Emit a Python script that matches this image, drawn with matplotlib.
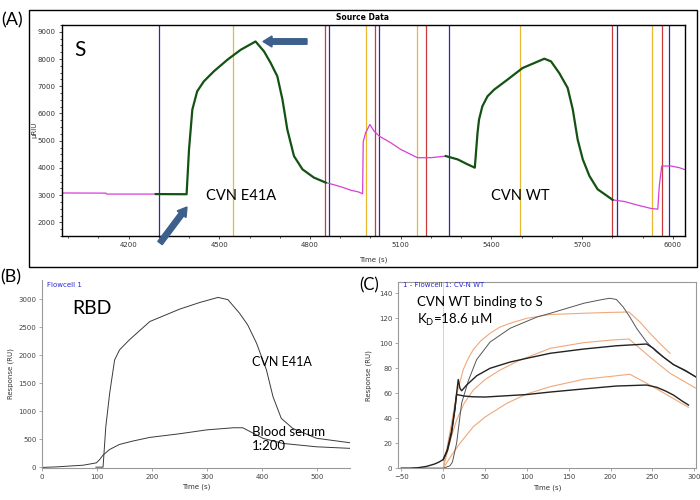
import matplotlib
matplotlib.use('Agg')
import matplotlib.pyplot as plt
from matplotlib.patches import Rectangle, FancyArrow
from matplotlib.ticker import MultipleLocator

plt.rcParams['font.family'] = ['DejaVu Sans']
plt.rcParams['mathtext.fontset'] = 'custom'
plt.rcParams['mathtext.rm'] = 'Lato'

ANN = ['Lato', 'DejaVu Sans']

# %% --- data, panel A (S, sensorgram) ---------------------------------------
pinkA1_t = [3980, 4125, 4128, 4300]
pinkA1_y = [3080, 3075, 3040, 3040]

greenA1_t = [4290, 4392, 4400, 4411, 4427, 4449, 4482, 4527, 4571, 4620,
             4648, 4670, 4692, 4709, 4725, 4747, 4775, 4813, 4852]
greenA1_y = [3040, 3034, 4680, 6145, 6815, 7180, 7547, 7975, 8340, 8645,
             8280, 7855, 7365, 6510, 5413, 4437, 3950, 3645, 3462]

pinkA2_t = [4852, 4880, 4910, 4935, 4960, 4974, 4976, 4984, 4998, 5012,
            5029, 5067, 5100, 5133, 5155, 5200, 5249]
pinkA2_y = [3462, 3380, 3280, 3180, 3120, 3050, 4963, 5292, 5596, 5351,
            5168, 4925, 4681, 4498, 4376, 4376, 4436]

greenA2_t = [5249, 5288, 5321, 5345, 5354, 5359, 5370, 5387, 5409, 5453,
             5503, 5542, 5575, 5597, 5624, 5652, 5669, 5685, 5702, 5724,
             5751, 5801]
greenA2_y = [4436, 4315, 4132, 4010, 5292, 5779, 6266, 6632, 6877, 7243,
             7671, 7855, 8012, 7913, 7488, 6939, 6145, 5047, 4315, 3704,
             3217, 2826]

pinkA3_t = [5801, 5840, 5884, 5928, 5950, 5955, 5963, 5994, 6021, 6043]
pinkA3_y = [2826, 2767, 2632, 2511, 2485, 3338, 4070, 4070, 4010, 3924]

blue_lines = [4300, 4862, 5028, 5260, 5815, 5986]
yellow_lines = [4547, 4984, 5154, 5496, 5932]
red_lines = [4849, 5015, 5184, 5798, 5964]

# %% --- data, panel B (RBD) --------------------------------------------------
e41a_t = [98, 111, 116, 123, 132, 141, 159, 196, 250, 287, 320, 338, 359,
          374, 390, 408, 420, 435, 456, 499, 560]
e41a_y = [5, 5, 725, 1320, 1915, 2095, 2275, 2600, 2820, 2940, 3030, 2990,
          2750, 2540, 2215, 1740, 1260, 875, 695, 520, 440]

serum_t = [0, 26, 75, 99, 105, 111, 123, 141, 165, 196, 250, 300, 348, 365,
           402, 438, 499, 560]
serum_y = [0, 10, 40, 82, 143, 220, 320, 410, 470, 535, 600, 670, 707, 707,
           518, 428, 368, 340]

# %% --- data, panel C (CVN WT binding to S) ----------------------------------
blkA_t = [-50, 0, 8, 11, 16, 22, 30, 40, 56, 80, 112, 128, 168, 190, 199,
          207, 215, 223, 231, 243, 255, 275, 302]
blkA_y = [0, 0, 2, 5, 20, 52, 70, 87, 101, 112, 121, 124, 132, 135, 136,
          135, 129, 121, 112, 101, 93, 83, 73]

blkB_t = [-50, -40, -30, -20, -10, -5, 0, 5, 10, 14, 16, 18, 20, 22, 28, 40,
          56, 80, 100, 128, 168, 207, 243, 251, 263, 275, 290, 302]
blkB_y = [0, 0, 0.5, 1.5, 3.5, 5, 7, 14, 28, 47, 60, 71, 64, 62, 66.6, 74,
          80, 85, 88, 92, 95.4, 98, 99.4, 96, 89, 83, 78, 73]

blkC_t = [0, 5, 10, 14, 16, 20, 25, 35, 50, 100, 128, 168, 207, 243, 255,
          265, 275, 285, 293]
blkC_y = [7, 15, 30, 48, 59, 58.5, 57.8, 57.2, 57, 59, 61, 63.5, 65.8, 66.6,
          64.8, 62, 58.6, 54, 50.6]

fit1_t = [-50, 0, 5, 10, 14, 18, 24, 30, 36, 45, 56, 68, 80, 100, 128, 168,
          200, 222, 235, 247, 260, 271]
fit1_y = [0, 0, 18, 36, 52, 64, 79, 88, 95, 102, 108, 113, 116, 120, 123,
          124, 124.7, 125, 117, 108, 99, 92]

fit2_t = [-50, 0, 5, 10, 16, 25, 36, 50, 68, 90, 128, 168, 200, 222, 247,
          271, 302]
fit2_y = [0, 0, 13, 26, 38.6, 52, 62.6, 71, 78.6, 86, 96, 100.5, 102.5,
          103.4, 89, 76, 64]

fit3_t = [-50, 0, 10, 20, 36, 50, 76, 100, 128, 168, 200, 223, 247, 271, 293]
fit3_y = [0, 0, 10.5, 20, 33.3, 41, 52, 59.5, 65.3, 71.2, 73.5, 75.2, 66.6,
          57.3, 48.8]


# %% ---------------------------------------------------------------------------
W, H = 700, 500
fig = plt.figure(figsize=(7, 5), dpi=100)


def fx(px):
    return px / W


def fy(py):
    return 1 - py / H


def ax_px(x0, y0, x1, y1):
    return fig.add_axes([fx(x0), fy(y1), fx(x1) - fx(x0), fy(y0) - fy(y1)])


#------------------ panel A
fig.add_artist(Rectangle((fx(29), fy(267)), fx(697) - fx(29), fy(10) - fy(267),
                         transform=fig.transFigure, fill=False,
                         edgecolor='black', lw=1.0))

ax0 = ax_px(62, 25, 685, 236)

for t in blue_lines:
    ax0.axvline(t, color='#2b2ba8', lw=0.9)
for t in yellow_lines:
    ax0.axvline(t, color='#e8b830', lw=0.9)
for t in red_lines:
    ax0.axvline(t, color='#c83a3a', lw=0.9)

for tt, yy in [(pinkA1_t, pinkA1_y), (pinkA2_t, pinkA2_y), (pinkA3_t, pinkA3_y)]:
    ax0.plot(tt, yy, '-', color='#d640d6', lw=0.9)
for tt, yy in [(greenA1_t, greenA1_y), (greenA2_t, greenA2_y)]:
    ax0.plot(tt, yy, '-', color='#145214', lw=1.6)

ax0.set_xlim(3980, 6040)
ax0.set_ylim(1500, 9250)
ax0.xaxis.set_minor_locator(MultipleLocator(100))
ax0.yaxis.set_major_locator(MultipleLocator(1000))
ax0.yaxis.set_minor_locator(MultipleLocator(250))
ax0.set_xticks([4200, 4500, 4800, 5100, 5400, 5700, 6000])
ax0.tick_params(labelsize=5, length=2.5, width=0.6, pad=2, color='#333333',
                labelcolor='#333333')
ax0.tick_params(which='minor', length=1.5, width=0.5)
for s in ax0.spines.values():
    s.set_linewidth(1.0)

fig.text(fx(362), fy(18), 'Source Data', fontsize=5.5, fontweight='bold',
         ha='center', va='center')
fig.text(fx(373), fy(260), 'Time (s)', fontsize=5, ha='center', va='center',
         color='#333333')
fig.text(fx(34), fy(130), 'µRIU', fontsize=5, rotation=90, ha='center',
         va='center', color='#333333')

fig.text(fx(12), fy(20), '(A)', fontsize=13, family=ANN, ha='center', va='center')
fig.text(fx(80), fy(50), 'S', fontsize=15, family=ANN, ha='center', va='center')
fig.text(fx(241), fy(196), 'CVN E41A', fontsize=10.5, family=ANN, ha='center', va='center')
fig.text(fx(520), fy(196), 'CVN WT', fontsize=10.5, family=ANN, ha='center', va='center')

arrow_col = '#3d5f8c'
for (x0, y0, x1, y1) in [(160, 243, 187, 207), (307, 41.5, 263, 41.5)]:
    fig.add_artist(FancyArrow(x0 / 100, (H - y0) / 100,
                              (x1 - x0) / 100, -(y1 - y0) / 100,
                              width=0.055, head_width=0.11, head_length=0.09,
                              length_includes_head=True, color=arrow_col,
                              transform=fig.dpi_scale_trans))

#------------------ panel B
ax1 = ax_px(42, 280, 350, 468)
ax1.plot(e41a_t, e41a_y, '-', color='#3a3a3a', lw=0.7)
ax1.plot(serum_t, serum_y, '-', color='#3a3a3a', lw=0.7)
ax1.set_xlim(0, 560)
ax1.set_ylim(-10, 3340)
ax1.xaxis.set_major_locator(MultipleLocator(100))
ax1.yaxis.set_major_locator(MultipleLocator(500))
ax1.set_xlabel('Time (s)', fontsize=5, labelpad=3, color='#333333')
ax1.set_ylabel('Response (RU)', fontsize=5, labelpad=3, color='#333333')
ax1.spines['top'].set_visible(False)
ax1.spines['right'].set_visible(False)

fig.text(fx(47), fy(285), 'Flowcell 1', fontsize=5, color='#2a2ad0', ha='left', va='center')
fig.text(fx(11), fy(277), '(B)', fontsize=13, family=ANN, ha='center', va='center')
fig.text(fx(92), fy(308), 'RBD', fontsize=14, family=ANN, ha='center', va='center')
fig.text(fx(252), fy(362), 'CVN E41A', fontsize=9, family=ANN, ha='left', va='center')
fig.text(fx(252), fy(439), 'Blood serum\n1:200', fontsize=9.5, family=ANN,
         ha='left', va='center', linespacing=1.15)

#------------------ panel C
ax2 = ax_px(398, 282, 696, 468.3)
ax2.axvline(0, color='#cccccc', lw=0.6)
for tt, yy in [(fit1_t, fit1_y), (fit2_t, fit2_y), (fit3_t, fit3_y)]:
    ax2.plot(tt, yy, '-', color='#f0a878', lw=0.8)
ax2.plot(blkA_t, blkA_y, '-', color='#555555', lw=0.7)
ax2.plot(blkB_t, blkB_y, '-', color='#222222', lw=1.0)
ax2.plot(blkC_t, blkC_y, '-', color='#222222', lw=1.0)
ax2.set_xlim(-54, 302)
ax2.set_ylim(0, 149)
ax2.xaxis.set_major_locator(MultipleLocator(50))
ax2.yaxis.set_major_locator(MultipleLocator(20))
ax2.set_xlabel('Time (s)', fontsize=5, labelpad=3, color='#333333')
ax2.set_ylabel('Response (RU)', fontsize=5, labelpad=5, color='#333333')

fig.text(fx(403), fy(285), '1 - Flowcell 1: CV-N WT', fontsize=5, color='#2a2ad0',
         ha='left', va='center')
fig.text(fx(369), fy(285), '(C)', fontsize=12, family=ANN, ha='center', va='center')
fig.text(fx(417), fy(302), 'CVN WT binding to S', fontsize=9.5, family=ANN,
         ha='left', va='center')
fig.text(fx(417), fy(320), r'K$_\mathrm{D}$=18.6 µM', fontsize=9.5, family=ANN,
         ha='left', va='center')

for ax in (ax1, ax2):
    ax.tick_params(labelsize=5, length=2, width=0.5, pad=2, color='#888888',
                   labelcolor='#444444')
    for s in ax.spines.values():
        s.set_color('#999999')
        s.set_linewidth(0.8)

plt.savefig('out.png', dpi=100)
